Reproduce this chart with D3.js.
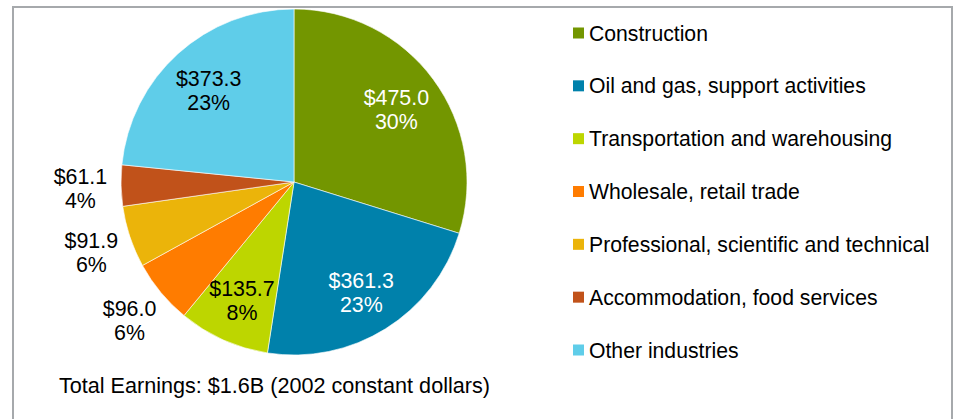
<!DOCTYPE html>
<html>
<head>
<meta charset="utf-8">
<script src="https://cdn.jsdelivr.net/npm/d3@7"></script>
<style>
  body { margin: 0; background: #fff; }
  svg { display: block; font-family: "Liberation Sans", Arial, sans-serif; }
</style>
</head>
<body>
<div id="chart"></div>
<script>
// Daten
var categories = ["Construction", "Oil and gas, support activities", "Transportation and warehousing",
                  "Wholesale, retail trade", "Professional, scientific and technical",
                  "Accommodation, food services", "Other industries"];
var values = [475.0, 361.3, 135.7, 96.0, 91.9, 61.1, 373.3];
var percentLabels = ["30%", "23%", "8%", "6%", "6%", "4%", "23%"];
var colors = ["#739600", "#0081ab", "#bdd600", "#ff7c00", "#ebb40a", "#c1521a", "#5fcde9"];
var labelColors = ["#fff", "#fff", "#000", "#000", "#000", "#000", "#000"];
var footnote = "Total Earnings: $1.6B (2002 constant dollars)";

var width = 959, height = 419;
var cx = 294, cy = 182, radius = 173;

var svg = d3.select("#chart").append("svg")
    .attr("width", width)
    .attr("height", height);

// Rahmen
svg.append("rect")
    .attr("x", 13).attr("y", 7)
    .attr("width", 939).attr("height", 430)
    .attr("fill", "#fff")
    .attr("stroke", "#a6a9ac")
    .attr("stroke-width", 2);

var total = d3.sum(values);
var pie = d3.pie().sort(null).value(function (d) { return d; });
var arcs = pie(values);
var arc = d3.arc().innerRadius(0).outerRadius(radius);

var g = svg.append("g").attr("transform", "translate(" + cx + "," + cy + ")");

g.selectAll("path")
    .data(arcs)
    .enter().append("path")
    .attr("d", arc)
    .attr("fill", function (d, i) { return colors[i]; })
    .attr("stroke", "#fff")
    .attr("stroke-width", 0.6);

// Beschriftung: kleine Stuecke aussen, sonst innen
var labels = g.selectAll("text.lbl")
    .data(arcs)
    .enter().append("text")
    .attr("class", "lbl")
    .attr("text-anchor", "middle")
    .attr("font-size", "21.4px")
    .attr("fill", function (d, i) { return (d.value / total < 0.07) ? "#000" : labelColors[i]; })
    .attr("transform", function (d) {
        var frac = d.value / total;
        var r = frac < 0.07 ? radius * 1.235 : radius * 0.735;
        var a = (d.startAngle + d.endAngle) / 2;
        return "translate(" + (r * Math.sin(a)) + "," + (-r * Math.cos(a)) + ")";
    });
labels.append("tspan")
    .attr("x", 0).attr("y", -2)
    .text(function (d) { return "$" + d.value.toFixed(1); });
labels.append("tspan")
    .attr("x", 0).attr("y", 22)
    .text(function (d, i) { return percentLabels[i]; });

// Legende
var legendY = d3.scalePoint().domain(categories).range([33, 350]);
var legend = svg.append("g").selectAll("g")
    .data(categories)
    .enter().append("g")
    .attr("transform", function (d) { return "translate(573," + legendY(d) + ")"; });
legend.append("rect")
    .attr("x", 0).attr("y", -5.5)
    .attr("width", 11).attr("height", 11)
    .attr("fill", function (d, i) { return colors[i]; });
legend.append("text")
    .attr("x", 16).attr("y", 7.5)
    .attr("font-size", "21.2px")
    .attr("fill", "#000")
    .text(function (d) { return d; });

svg.append("text")
    .attr("x", 59).attr("y", 393)
    .attr("font-size", "21.6px")
    .attr("fill", "#000")
    .text(footnote);
</script>
</body>
</html>
